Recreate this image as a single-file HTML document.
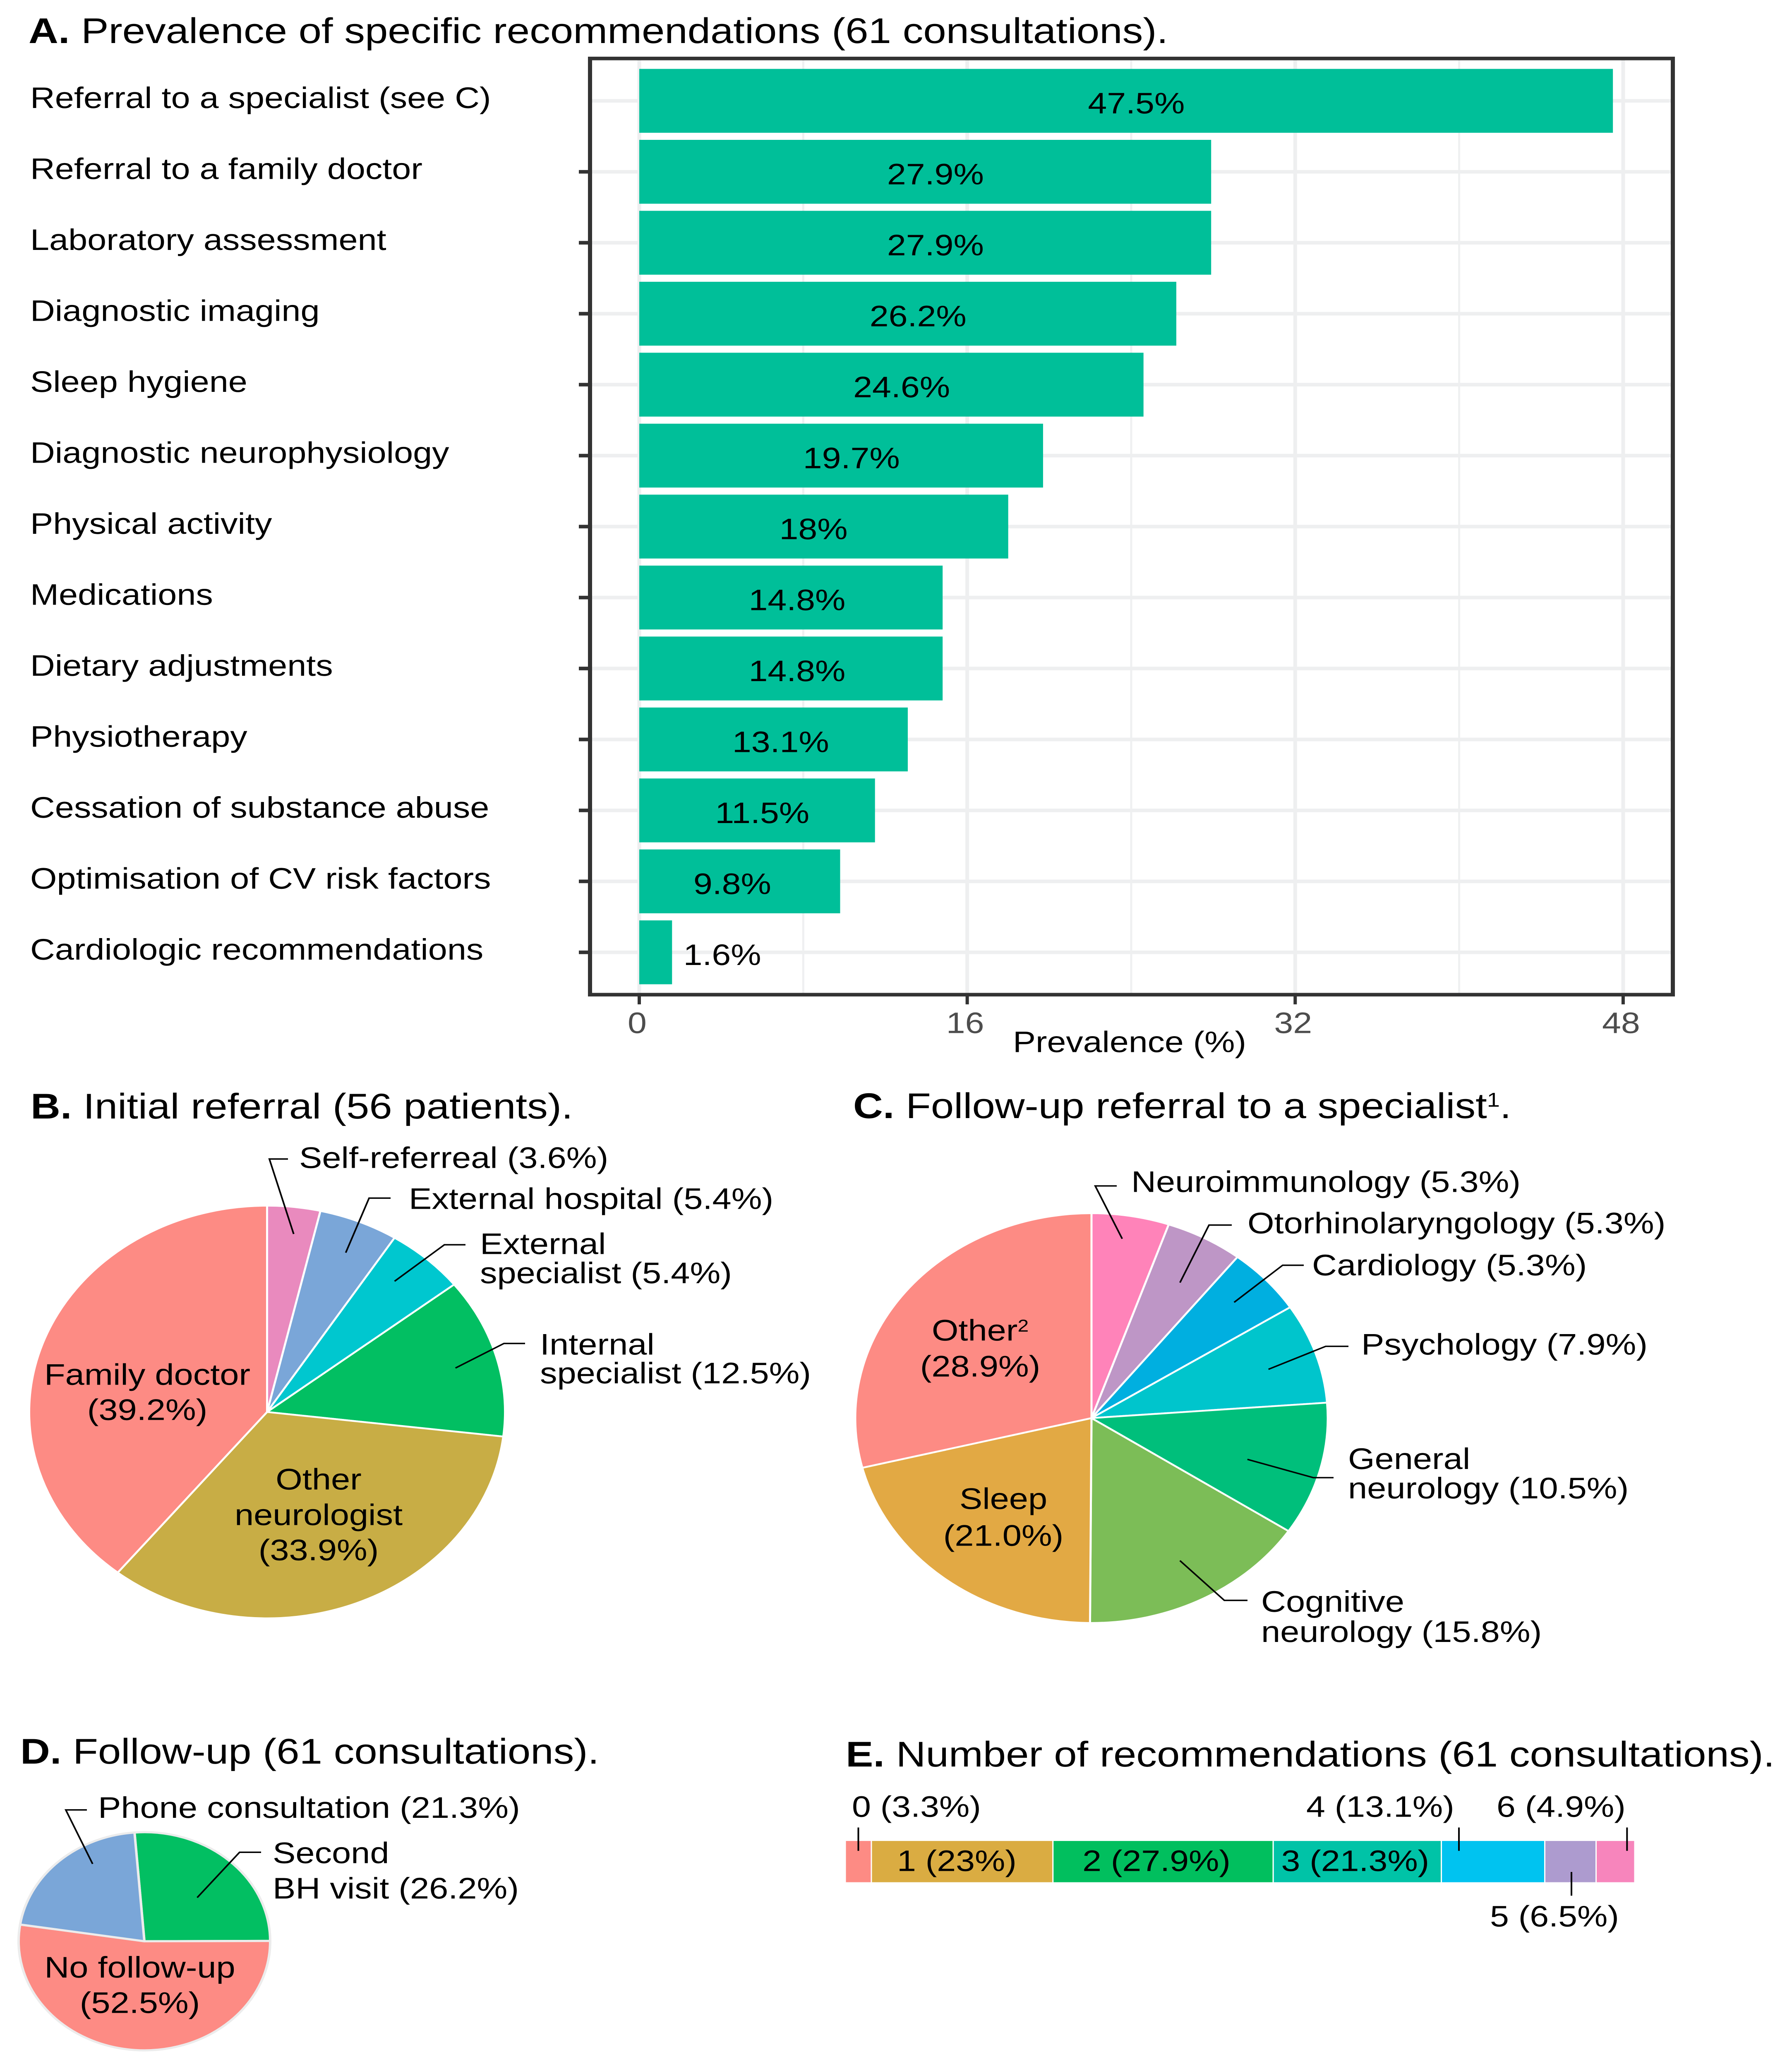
<!DOCTYPE html>
<html lang="en" style="width:100%;height:100%;overflow:hidden;margin:0;padding:0;">
<head>
<meta charset="utf-8">
<title>Recommendations figure</title>
<style>
html,body{margin:0;padding:0;background:#fff;width:100%;height:100%;overflow:hidden;}
svg{display:block;width:100vw;height:100vh;}
text{font-family:"Liberation Sans",Arial,sans-serif;fill:#000;text-rendering:geometricPrecision;}
</style>
</head>
<body>
<svg id="fig" xmlns="http://www.w3.org/2000/svg" viewBox="0 0 4331 5766" preserveAspectRatio="none">
<rect x="0" y="0" width="4331" height="5766" fill="#fff"/>
<text x="69" y="120" font-size="99.5"><tspan font-weight="700">A.</tspan> Prevalence of specific recommendations (61 consultations).</text>
<text x="74" y="3117" font-size="99.5"><tspan font-weight="700">B.</tspan> Initial referral (56 patients).</text>
<text x="2062" y="3116" font-size="99.5"><tspan font-weight="700">C.</tspan> Follow-up referral to a specialist<tspan font-size="56" dy="-32">1</tspan><tspan dy="32">.</tspan></text>
<text x="49" y="4915" font-size="99.5"><tspan font-weight="700">D.</tspan> Follow-up (61 consultations).</text>
<text x="2044" y="4923" font-size="99.5"><tspan font-weight="700">E.</tspan> Number of recommendations (61 consultations).</text>
</svg>
<script>
/* ---------- Panel A data ---------- */
const aCategories = ["Referral to a specialist (see C)","Referral to a family doctor","Laboratory assessment","Diagnostic imaging","Sleep hygiene","Diagnostic neurophysiology","Physical activity","Medications","Dietary adjustments","Physiotherapy","Cessation of substance abuse","Optimisation of CV risk factors","Cardiologic recommendations"];
const aValues = [47.5,27.9,27.9,26.2,24.6,19.7,18,14.8,14.8,13.1,11.5,9.8,1.6];
const aTickValues = [0,16,32,48];
const aMinorTickValues = [8,24,40];

/* ---------- Panel B data ---------- */
const bNames = ["Self-referreal","External hospital","External\nspecialist","Internal\nspecialist","Other\nneurologist","Family doctor"];
const bValues = [3.6,5.4,5.4,12.5,33.9,39.2];

/* ---------- Panel C data ---------- */
const cNames = ["Neuroimmunology","Otorhinolaryngology","Cardiology","Psychology","General\nneurology","Cognitive\nneurology","Sleep","Other²"];
const cValues = [5.3,5.3,5.3,7.9,10.5,15.8,21.0,28.9];

/* ---------- Panel D data ---------- */
const dNames = ["Second\nBH visit","No follow-up","Phone consultation"];
const dValues = [26.2,52.5,21.3];

/* ---------- Panel E data ---------- */
const eCounts = ["0","1","2","3","4","5","6"];
const eValues = [3.3,23,27.9,21.3,13.1,6.5,4.9];

/* ---------- Styling (not data) ---------- */
const bColors = ["#E98ABE","#7AA6D8","#00C7CF","#02BF62","#C8AD45","#FD8B84"];
const cColors = ["#FF83B9","#BE96C6","#00AFE0","#00C5CC","#00BF7B","#7CBD57","#E2A944","#FD8B84"];
const dColors = ["#02BF62","#FD8B84","#7AA6D8"];
const eColors = ["#FD8B84","#DAAC42","#01BF5E","#00C3A7","#00C3F0","#AD9BCF","#F785BC"];

/* ---------- Label layout (not data) ---------- */
const aLabelNudge = [0.5,0.5,0.5,0.5,0.5,0.5,-0.5,0.3,0.3,0.35,0.25,-0.36,3.25];
const bCallouts = [
 {slice:0,frac:.87,nudge:.9,sx:696,sy:3230,ex:651,tx:723,ys:[3255]},
 {slice:1,frac:.84,nudge:.5,sx:944,sy:3339,ex:892,tx:988,ys:[3369]},
 {slice:2,frac:.83,nudge:-1.9,sx:1125,sy:3469,ex:1074,tx:1160,ys:[3495,3576]},
 {slice:3,frac:.82,nudge:.6,sx:1269,sy:3744,ex:1218,tx:1305,ys:[3775,3855]}
];
const bInside = [
 {slice:4,x:770,ys:[4151,4250,4348]},
 {slice:5,x:356,ys:[3859,3957]}
];
const cCallouts = [
 {slice:0,frac:.885,nudge:-1.1,sx:2699,sy:3305,ex:2647,tx:2734,ys:[3322]},
 {slice:1,frac:.76,nudge:.9,sx:2977,sy:3414,ex:2922,tx:3015,ys:[3437]},
 {slice:2,frac:.827,nudge:-.8,sx:3151,sy:3526,ex:3100,tx:3171,ys:[3554]},
 {slice:3,frac:.786,nudge:.9,sx:3259,sy:3752,ex:3204,tx:3290,ys:[3775]},
 {slice:4,frac:.69,nudge:2.4,sx:3223,sy:4118,ex:3174,tx:3258,ys:[4094,4176]},
 {slice:5,frac:.79,nudge:-.2,sx:3015,sy:4460,ex:2959,tx:3048,ys:[4492,4576]}
];
const cInside = [
 {slice:6,x:2425,ys:[4205,4308]},
 {slice:7,x:2369,ys:[3736,3836]}
];
const dCallouts = [
 {slice:0,frac:.58,nudge:3.7,sx:631,sy:5162,ex:579,tx:659,ys:[5192,5291]},
 {slice:2,frac:.82,nudge:12.7,sx:210,sy:5044,ex:159,tx:237,ys:[5066]}
];
const dInside = [{slice:1,x:338,ys:[5511,5610]}];
const eOutside = [
 {seg:0,frac:.5,tx:2059,ty:5063,below:false},
 {seg:4,frac:.17,tx:3157,ty:5063,below:false},
 {seg:5,frac:.52,tx:3601,ty:5369,below:true},
 {seg:6,frac:.8,tx:3617,ty:5063,below:false}
];
const eInsideNudge = {1:-13,2:-16,3:-5};

/* ---------- Helpers ---------- */
const svg = document.getElementById('fig');
const NS = 'http://www.w3.org/2000/svg';
const FS = 82.5;
function mk(tag, attrs, parent, text) {
  const n = document.createElementNS(NS, tag);
  for (const k in attrs) n.setAttribute(k, attrs[k]);
  if (text !== undefined) n.textContent = text;
  (parent || svg).appendChild(n);
  return n;
}
function slug(s) {
  return s.replace(/\n/g, ' ').replace(/²/g, '').replace(/[^A-Za-z0-9]+/g, '-').replace(/-$/, '').toLowerCase();
}

/* ---------- Panel A ---------- */
(function () {
  const g = mk('g', {});
  
  
  const x = v => 1545 + v * 49.54;
  const y = i => 281 + i * 197.75;
  const top = 163, bottom = 2772, left = 1426, right = 4043, barH = 178;

  aMinorTickValues.forEach(v => {
    const l = mk('line', {x1:x(v),x2:x(v),y1:top,y2:bottom,stroke:'#eff0f1','stroke-width':5}, g);
    
    
  });
  aTickValues.forEach(v => {
    const l = mk('line', {x1:x(v),x2:x(v),y1:top,y2:bottom,stroke:'#eeeff0','stroke-width':9}, g);
    
    
  });
  aCategories.forEach((c, i) => {
    const l = mk('line', {x1:left,x2:right,y1:y(i),y2:y(i),stroke:'#eeeff0','stroke-width':10}, g);
    
    
  });
  aValues.forEach((v, i) => {
    const r = mk('rect', {x:x(0),y:y(i)-barH/2,width:x(v)-x(0),height:barH,fill:'#00BF99'}, g);
    
    
    const t = mk('text', {x:x(v/2+aLabelNudge[i]),y:y(i)+35,'font-size':FS,'text-anchor':'middle'}, g, v + '%');
    
    
    const c = mk('text', {x:73,y:y(i)+20,'font-size':FS+0.3}, g, aCategories[i]);
    
    
    if (i > 0) {
      const k = mk('line', {x1:1399,x2:left,y1:y(i),y2:y(i),stroke:'#333','stroke-width':10}, g);
      
      
    }
  });
  const frame = mk('rect', {x:left,y:top,width:right-left,height:bottom-top,fill:'none',stroke:'#333','stroke-width':10}, g);
  
  
  aTickValues.forEach(v => {
    const k = mk('line', {x1:x(v),x2:x(v),y1:bottom,y2:2799,stroke:'#333','stroke-width':8}, g);
    
    
    const t = mk('text', {x:x(v)-5,y:2879,'font-size':FS,'text-anchor':'middle',style:'fill:#4d4d4d'}, g, String(v));
    
    
  });
  const xt = mk('text', {x:2730,y:2932,'font-size':FS,'text-anchor':'middle'}, g, 'Prevalence (%)');
  
  
})();

/* ---------- Pies ---------- */
function labelLines(name, value, ownLine) {
  const parts = name.split('\n');
  const pct = '(' + value.toFixed(1) + '%)';
  if (ownLine) return parts.concat([pct]);
  parts[parts.length - 1] += ' ' + pct;
  return parts;
}
function drawPie(prefix, cx, cy, r, names, values, colors, startDeg, strokeColor, strokeW, callouts, inside) {
  const g = mk('g', {});
  
  
  const total = values.reduce((a, b) => a + b, 0);
  const ang = v => v / total * 360;
  const pt = (deg, rad) => {
    const a = deg * Math.PI / 180;
    return [cx + rad * Math.sin(a), cy - rad * Math.cos(a)];
  };
  const mids = [];
  let acc = startDeg;
  values.forEach((v, i) => {
    const a0 = acc, a1 = acc + ang(v);
    acc = a1;
    mids.push((a0 + a1) / 2);
    const p0 = pt(a0, r), p1 = pt(a1, r);
    const d = 'M' + cx + ' ' + cy + 'L' + p0[0] + ' ' + p0[1] + 'A' + r + ' ' + r + ' 0 ' + (a1 - a0 > 180 ? 1 : 0) + ' 1 ' + p1[0] + ' ' + p1[1] + 'Z';
    const s = mk('path', {d:d,fill:colors[i],stroke:strokeColor,'stroke-width':strokeW,'stroke-linejoin':'round'}, g);
    
    
  });
  callouts.forEach(c => {
    const inner = pt(mids[c.slice] + c.nudge, r * c.frac);
    const l = mk('polyline', {points:c.sx+','+c.sy+' '+c.ex+','+c.sy+' '+inner[0]+','+inner[1],fill:'none',stroke:'#000','stroke-width':4}, g);
    
    
    labelLines(names[c.slice], values[c.slice], false).forEach((line, j) => {
      const t = mk('text', {x:c.tx,y:c.ys[j],'font-size':FS+0.5}, g, line);
      
      
    });
  });
  inside.forEach(c => {
    labelLines(names[c.slice], values[c.slice], true).forEach((line, j) => {
      const sup = line.endsWith('²');
      const t = mk('text', {x:c.x,y:c.ys[j],'font-size':FS+0.5,'text-anchor':'middle'}, g, sup ? line.slice(0, -1) : line);
      
      
      if (sup) mk('tspan', {'font-size':48,dy:-25}, t, '2');
    });
  });
}
drawPie('initial-referral', 645.5, 3935, 575, bNames, bValues, bColors, 0, '#fff', 5, bCallouts, bInside);
drawPie('specialist', 2638, 3952, 571, cNames, cValues, cColors, 0, '#fff', 5, cCallouts, cInside);
drawPie('follow-up', 349, 5410, 304, dNames, dValues, dColors, -4.5, '#ececec', 6, dCallouts, dInside);

/* ---------- Panel E ---------- */
(function () {
  const g = mk('g', {});
  
  
  const total = eValues.reduce((a, b) => a + b, 0);
  const x = v => 2043 + v / total * 1908;
  const top = 5129, bottom = 5247;
  let acc = 0;
  const starts = [];
  eValues.forEach((v, i) => {
    starts.push(acc);
    const r = mk('rect', {x:x(acc),y:top,width:x(acc+v)-x(acc),height:bottom-top,fill:eColors[i],stroke:'#fff','stroke-width':3}, g);
    
    
    if (eInsideNudge[i] !== undefined) {
      const t = mk('text', {x:x(acc+v/2)+eInsideNudge[i],y:5214,'font-size':FS,'text-anchor':'middle'}, g, eCounts[i] + ' (' + v + '%)');
      
      
    }
    acc += v;
  });
  eOutside.forEach(c => {
    const lx = x(starts[c.seg] + eValues[c.seg] * c.frac);
    const l = mk('line', {x1:lx,x2:lx,y1:c.below?5217:5093,y2:c.below?5283:5158,stroke:'#000','stroke-width':4}, g);
    
    
    const t = mk('text', {x:c.tx,y:c.ty,'font-size':FS}, g, eCounts[c.seg] + ' (' + eValues[c.seg] + '%)');
    
    
  });
})();
</script>
</body>
</html>
